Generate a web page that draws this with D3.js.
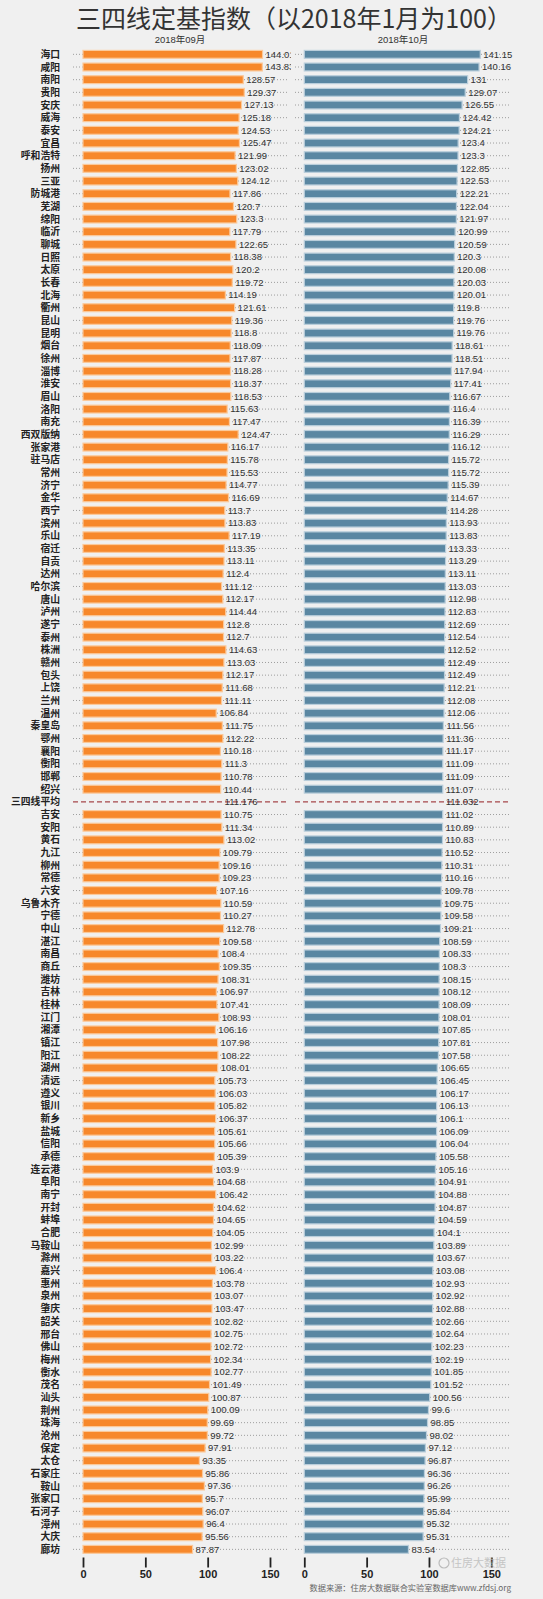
<!DOCTYPE html>
<html>
<head>
<meta charset="utf-8">
<script src="https://cdn.jsdelivr.net/npm/d3@7"></script>
<style>
  body{margin:0;background:#f0f0f0;}
  svg{display:block;}
</style>
</head>
<body>
<script>
	//Screen properties
	var width=543, height=1599;

	var cities=["海口","咸阳","南阳","贵阳","安庆","威海","泰安","宜昌","呼和浩特","扬州",
		"三亚","防城港","芜湖","绵阳","临沂","聊城","日照","太原","长春","北海",
		"衢州","昆山","昆明","烟台","徐州","淄博","淮安","眉山","洛阳","南充",
		"西双版纳","张家港","驻马店","常州","济宁","金华","西宁","滨州","乐山","宿迁",
		"自贡","达州","哈尔滨","唐山","泸州","遂宁","泰州","株洲","赣州","包头",
		"上饶","兰州","温州","秦皇岛","鄂州","襄阳","衡阳","邯郸","绍兴","三四线平均",
		"吉安","安阳","黄石","九江","柳州","常德","六安","乌鲁木齐","宁德","中山",
		"湛江","南昌","商丘","潍坊","吉林","桂林","江门","湘潭","镇江","阳江",
		"湖州","清远","遵义","银川","新乡","盐城","信阳","承德","连云港","阜阳",
		"南宁","开封","蚌埠","合肥","马鞍山","滁州","嘉兴","惠州","泉州","肇庆",
		"韶关","邢台","佛山","梅州","衡水","茂名","汕头","荆州","珠海","沧州",
		"保定","太仓","石家庄","鞍山","张家口","石河子","漳州","大庆","廊坊"];

	//2018年09月
	var sep=[144.01,143.83,128.57,129.37,127.13,125.18,124.53,125.47,121.99,123.02,
		124.12,117.86,120.7,123.3,117.79,122.65,118.38,120.2,119.72,114.19,
		121.61,119.36,118.8,118.09,117.87,118.28,118.37,118.53,115.63,117.47,
		124.47,116.17,115.78,115.53,114.77,116.69,113.7,113.83,117.19,113.35,
		113.11,112.4,111.12,112.17,114.44,112.8,112.7,114.63,113.03,112.17,
		111.68,111.11,106.84,111.75,112.22,110.18,111.3,110.78,110.44,111.176,
		110.75,111.34,113.02,109.79,109.16,109.23,107.16,110.59,110.27,112.78,
		109.58,108.4,109.35,108.31,106.97,107.41,108.93,106.16,107.98,108.22,
		108.01,105.73,106.03,105.82,106.37,105.61,105.66,105.39,103.9,104.68,
		106.42,104.62,104.65,104.05,102.99,103.22,106.4,103.78,103.07,103.47,
		102.82,102.75,102.72,102.34,102.77,101.49,100.87,100.09,99.69,99.72,
		97.91,93.35,95.86,97.36,95.7,96.07,96.4,95.56,87.87];

	//2018年10月
	var oct=[141.15,140.16,131,129.07,126.55,124.42,124.21,123.4,123.3,122.85,
		122.53,122.21,122.04,121.97,120.99,120.59,120.3,120.08,120.03,120.01,
		119.8,119.76,119.76,118.61,118.51,117.94,117.41,116.67,116.4,116.39,
		116.29,116.12,115.72,115.72,115.39,114.67,114.28,113.93,113.83,113.33,
		113.29,113.11,113.03,112.98,112.83,112.69,112.54,112.52,112.49,112.49,
		112.21,112.08,112.06,111.56,111.36,111.17,111.09,111.09,111.07,111.032,
		111.02,110.89,110.83,110.52,110.31,110.16,109.78,109.75,109.58,109.21,
		108.59,108.33,108.3,108.15,108.12,108.09,108.01,107.85,107.81,107.58,
		106.65,106.45,106.17,106.13,106.1,106.09,106.04,105.58,105.16,104.91,
		104.88,104.87,104.59,104.1,103.89,103.67,103.08,102.93,102.92,102.88,
		102.66,102.64,102.23,102.19,101.85,101.52,100.56,99.6,98.85,98.02,
		97.12,96.87,96.36,96.26,95.99,95.84,95.32,95.31,83.54];

	var panels=["2018年09月","2018年10月"];
	var ticks=[0,50,100,150];
	var avgName="三四线平均";

	var rows=cities.map(function(c,i){return {name:c,v:[sep[i],oct[i]]};});

	var svg=d3.select("body").append("svg")
		.attr("width",width)
		.attr("height",height);

	svg.append("rect").attr("width",width).attr("height",height).attr("fill","#f0f0f0");

	var y=d3.scaleBand().domain(cities).range([48,1555.7]).paddingInner(0.38).paddingOuter(0.19);
	var xs=[
		d3.scaleLinear().domain([0,150]).range([83,270]),
		d3.scaleLinear().domain([0,150]).range([304.3,491.3])
	];
	var colors=["#f7882b","#5a87a2"];
	var halos=["#fbc99a","#b9cedb"];
	var dotSpan=[[73,289],[295,511]];

	//TITLE
	svg.append("text")
		.attr("x",294).attr("y",28)
		.attr("text-anchor","middle")
		.style("font-family","'Noto Sans CJK SC'")
		.style("font-size","25px")
		.style("fill","#333")
		.text("三四线定基指数（以2018年1月为100）");

	svg.append("defs").append("clipPath").attr("id","clipL")
		.append("rect").attr("x",0).attr("y",0).attr("width",291).attr("height",height);

	panels.forEach(function(p,k){
		var x=xs[k];
		svg.append("text")
			.attr("x",k==0?180:403).attr("y",43)
			.attr("text-anchor","middle")
			.style("font-family","'Liberation Sans','Noto Sans CJK SC'")
			.style("font-size","9.5px")
			.style("fill","#333")
			.text(p);

		var g=svg.append("g");
		if(k==0)g.attr("clip-path","url(#clipL)");

		//dotted leaders
		g.selectAll("line.lead").data(rows.filter(function(d){return d.name!=avgName;})).enter()
			.append("line")
			.attr("x1",dotSpan[k][0]).attr("x2",dotSpan[k][1])
			.attr("y1",function(d){return y(d.name)+y.bandwidth()/2;})
			.attr("y2",function(d){return y(d.name)+y.bandwidth()/2;})
			.attr("stroke","#888").attr("stroke-width",0.8)
			.attr("stroke-dasharray","1,2");

		//bars
		g.selectAll("rect.bar").data(rows.filter(function(d){return d.name!=avgName;})).enter()
			.append("rect")
			.attr("x",x(0))
			.attr("y",function(d){return y(d.name);})
			.attr("width",function(d){return x(d.v[k])-x(0);})
			.attr("height",y.bandwidth())
			.attr("fill",colors[k])
			.attr("stroke",halos[k])
			.attr("stroke-width",1.2);

		//average line
		var avg=rows.filter(function(d){return d.name==avgName;});
		g.selectAll("line.avg").data(avg).enter()
			.append("line")
			.attr("x1",dotSpan[k][0]).attr("x2",dotSpan[k][1])
			.attr("y1",function(d){return y(d.name)+y.bandwidth()/2;})
			.attr("y2",function(d){return y(d.name)+y.bandwidth()/2;})
			.attr("stroke","#a5474a").attr("stroke-width",1.1)
			.attr("stroke-dasharray","5,3");

		//values
		g.selectAll("text.val").data(rows).enter()
			.append("text")
			.attr("x",function(d){return x(d.v[k])+3;})
			.attr("y",function(d){return y(d.name)+y.bandwidth()/2;})
			.attr("dy","0.35em")
			.style("font-family","'Liberation Sans',Arial")
			.style("font-size","9.5px")
			.style("fill","#333")
			.text(function(d){return String(d.v[k]);});

		//axis
		var ax=svg.append("g")
			.attr("transform","translate(0,1557.5)")
			.call(d3.axisBottom(x).tickValues(ticks).tickSize(10).tickPadding(3));
		ax.select(".domain").remove();
		ax.selectAll(".tick line").attr("stroke","#222").attr("stroke-width",1.8);
		ax.selectAll(".tick text")
			.style("font-family","'Liberation Sans',Arial")
			.style("font-size","11px")
			.style("font-weight","bold")
			.style("fill","#222");
	});

	//CATEGORY LABELS
	svg.selectAll("text.cat").data(rows).enter()
		.append("text")
		.attr("x",60)
		.attr("y",function(d){return y(d.name)+y.bandwidth()/2;})
		.attr("dy","0.36em")
		.attr("text-anchor","end")
		.style("font-family","'Noto Sans CJK SC'")
		.style("font-size","9.8px")
		.style("font-weight","bold")
		.style("fill","#222")
		.text(function(d){return d.name;});

	//watermark + source
	svg.append("text")
		.attr("x",506).attr("y",1567)
		.attr("text-anchor","end")
		.style("font-family","'Noto Sans CJK SC'")
		.style("font-size","11px")
		.style("fill","#bbb").style("opacity",0.8)
		.text("住房大数据");
	svg.append("circle").attr("cx",444).attr("cy",1563).attr("r",5)
		.attr("fill","none").attr("stroke","#bbb").attr("stroke-width",1.2);

	svg.append("text")
		.attr("x",511).attr("y",1591)
		.attr("text-anchor","end")
		.style("font-family","'Noto Sans CJK SC','DejaVu Sans Mono'")
		.style("font-size","8.2px")
		.style("fill","#666")
		.text("数据来源：住房大数据联合实验室数据库www.zfdsj.org");
</script>
</body>
</html>
